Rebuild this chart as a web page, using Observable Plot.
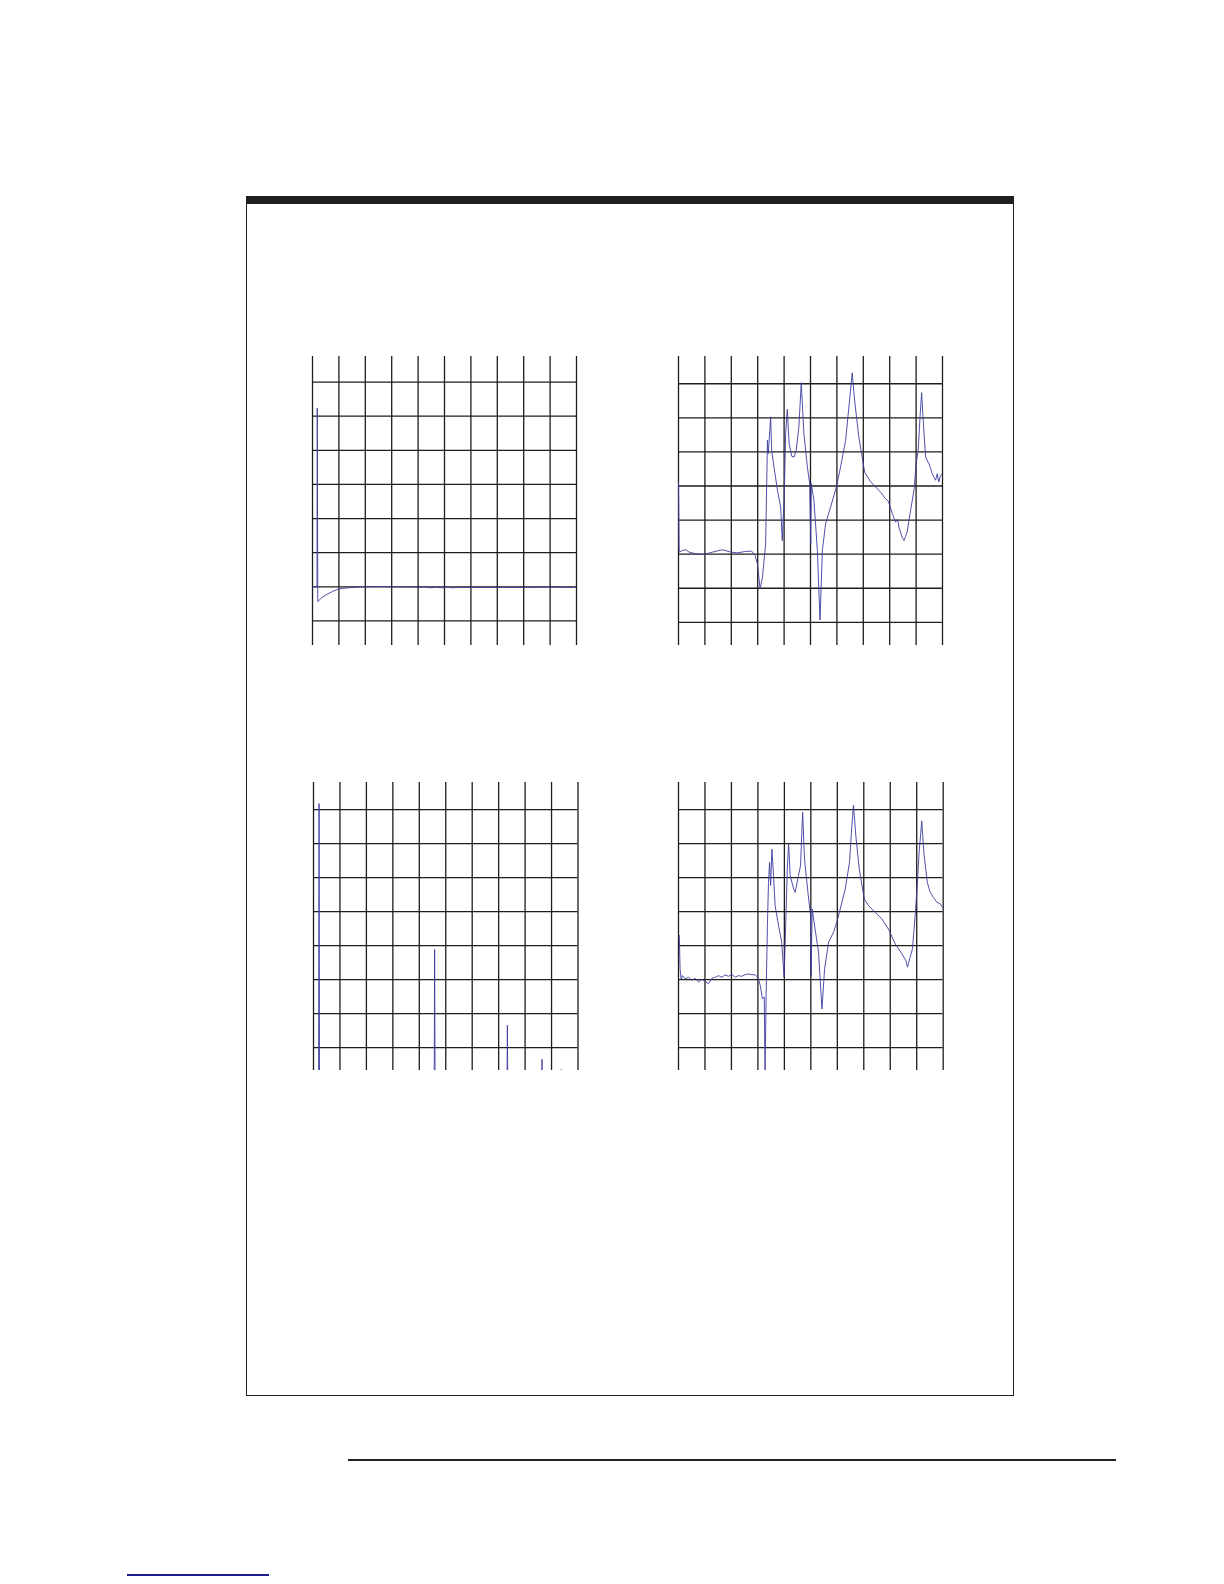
<!DOCTYPE html>
<html>
<head>
<meta charset="utf-8">
<script src="https://cdn.jsdelivr.net/npm/d3@7"></script>
<script src="https://cdn.jsdelivr.net/npm/@observablehq/plot@0.6"></script>
<style>
  html, body { margin: 0; padding: 0; background: #fff; }
  #page { position: relative; width: 1224px; height: 1584px; background: #fff; overflow: hidden; font-family: "Liberation Sans", Arial, sans-serif; }
  .abs { position: absolute; }
  .panel svg { display: block; }
</style>
</head>
<body>
<div id="page">
  <div class="abs" id="box" style="left:246px;top:196px;width:766px;height:1199px;border:1.3px solid #231f20;border-top:none;"></div>
  <div class="abs" style="left:246px;top:196px;width:768px;height:8px;background:#231f20;"></div>
  <div class="abs" style="left:348px;top:1459px;width:768px;height:1.5px;background:#231f20;"></div>
  <div class="abs" style="left:127px;top:1574px;width:142px;height:1.6px;background:#1c1c8c;"></div>
</div>
<script>
// grid divisions (shared by all panels)
const xGrid = [0, 1, 2, 3, 4, 5, 6, 7, 8, 9, 10];
const yGrid = [1, 2, 3, 4, 5, 6, 7, 8];

// Panel 1 (top left)
const p1X = [0, 0.17, 0.18, 0.20, 0.35, 0.55, 0.75, 0.96, 1.2, 1.5, 1.82, 2.5, 3.2, 4.3, 4.5, 4.7, 4.9, 5.1, 5.3, 5.5, 6.5, 8, 9, 10];
const p1Y = [2.0, 2.0, 7.24, 1.57, 1.68, 1.78, 1.86, 1.93, 1.96, 1.98, 2.0, 2.01, 2.0, 1.99, 1.97, 1.99, 1.97, 1.99, 1.97, 1.98, 1.98, 1.98, 1.99, 1.98];

// Panel 2 (top right)
const p2X = [0, 0.025, 0.15, 0.28, 0.40, 0.66, 0.97, 1.29, 1.66, 1.98, 2.23, 2.55, 2.77, 2.90, 2.99, 3.09, 3.18, 3.30, 3.37, 3.40, 3.46, 3.49, 3.53, 3.58, 3.75, 3.87, 3.93, 4.00, 4.06, 4.12, 4.19, 4.29, 4.38, 4.46, 4.56, 4.65, 4.75, 4.88, 4.97, 5.01, 5.03, 5.13, 5.26, 5.36, 5.45, 5.57, 5.76, 5.98, 6.14, 6.33, 6.48, 6.58, 6.67, 6.83, 7.05, 7.28, 7.47, 7.65, 7.84, 7.95, 8.02, 8.10, 8.22, 8.30, 8.35, 8.42, 8.47, 8.54, 8.60, 8.66, 8.79, 8.92, 9.00, 9.08, 9.15, 9.21, 9.26, 9.36, 9.48, 9.55, 9.61, 9.68, 9.74, 9.80, 9.86, 9.92, 9.99];
const p2Y = [5.12, 3.06, 3.11, 3.13, 3.06, 3.01, 2.99, 3.06, 3.13, 3.06, 3.04, 3.08, 3.09, 2.96, 2.72, 1.98, 2.32, 3.30, 6.34, 5.95, 6.64, 7.03, 6.05, 5.75, 4.87, 4.38, 3.40, 4.58, 6.54, 7.25, 6.25, 5.87, 5.85, 6.05, 6.74, 8.03, 6.54, 5.56, 5.07, 3.30, 5.07, 4.58, 3.11, 1.07, 3.11, 3.89, 4.38, 4.97, 5.56, 6.34, 7.52, 8.32, 7.52, 6.44, 5.41, 5.12, 4.97, 4.82, 4.63, 4.55, 4.38, 4.19, 3.94, 4.02, 3.79, 3.62, 3.50, 3.40, 3.52, 3.65, 4.28, 4.87, 5.66, 6.05, 7.03, 7.74, 7.03, 5.85, 5.66, 5.52, 5.36, 5.25, 5.17, 5.36, 5.12, 5.30, 5.36];

// Panel 3 (bottom left)
const p3X = [0, 0.19, 0.21, 0.23, 4.56, 4.58, 4.60, 7.31, 7.33, 7.35, 8.62, 8.64, 8.66, 9.35, 9.37, 9.39, 10];
const p3Y = [-1, -1, 8.18, -1, -1, 3.89, -1, -1, 1.66, -1, -1, 0.66, -1, -1, 0.36, -1, -1];

// Panel 4 (bottom right)
const p4X = [0.03, 0.06, 0.10, 0.15, 0.25, 0.38, 0.50, 0.63, 0.76, 0.88, 1.01, 1.13, 1.26, 1.39, 1.51, 1.64, 1.76, 1.89, 2.02, 2.14, 2.27, 2.39, 2.52, 2.64, 2.77, 2.90, 3.00, 3.09, 3.17, 3.24, 3.27, 3.31, 3.36, 3.40, 3.44, 3.48, 3.53, 3.59, 3.65, 3.78, 3.90, 3.99, 4.06, 4.11, 4.16, 4.22, 4.35, 4.41, 4.53, 4.61, 4.69, 4.76, 4.89, 4.99, 5.01, 5.05, 5.16, 5.29, 5.42, 5.52, 5.67, 5.86, 5.98, 6.11, 6.30, 6.46, 6.55, 6.61, 6.70, 6.83, 7.02, 7.18, 7.43, 7.68, 7.93, 8.19, 8.44, 8.59, 8.65, 8.75, 8.84, 8.94, 9.02, 9.09, 9.19, 9.27, 9.40, 9.51, 9.63, 9.76, 9.89, 10.0];
const p4Y = [4.30, 3.32, 3.01, 3.12, 3.03, 3.07, 2.98, 3.04, 2.93, 3.01, 2.95, 2.88, 3.04, 3.07, 3.12, 3.07, 3.14, 3.10, 3.15, 3.07, 3.12, 3.10, 3.15, 3.17, 3.15, 3.14, 3.07, 2.83, 2.44, 2.49, 0.20, 2.54, 4.59, 5.86, 6.45, 5.77, 6.84, 6.06, 5.18, 4.59, 4.10, 3.07, 4.88, 6.25, 6.99, 6.06, 5.67, 5.57, 6.06, 6.35, 7.92, 6.55, 5.57, 4.88, 3.12, 5.08, 4.49, 3.81, 2.14, 3.32, 4.10, 4.40, 4.69, 5.08, 5.67, 6.45, 7.53, 8.13, 7.23, 6.25, 5.37, 5.18, 4.98, 4.79, 4.49, 4.05, 3.76, 3.56, 3.37, 3.66, 3.91, 4.88, 5.77, 6.74, 7.67, 6.74, 5.86, 5.57, 5.42, 5.28, 5.23, 5.10];

const panels = [
  {xs: p1X, ys: p1Y, left: 312, top: 356, w: 264, h: 289, yDom: [0.28, 8.75]},
  {xs: p2X, ys: p2Y, left: 678, top: 356, w: 264, h: 289, yDom: [0.32, 8.80]},
  {xs: p3X, ys: p3Y, left: 313, top: 782, w: 264.5, h: 288, yDom: [0.33, 8.80]},
  {xs: p4X, ys: p4Y, left: 678.3, top: 782, w: 264.7, h: 288, yDom: [0.33, 8.80]}
];

const page = document.getElementById("page");
const gridColor = "#1d1d1b";
const traceColor = "#3c3ca0";

for (const p of panels) {
  const data = p.xs.map((x, i) => ({x, y: p.ys[i]}));
  const m = 2;
  const chart = Plot.plot({
    width: p.w + 2 * m,
    height: p.h,
    marginLeft: m,
    marginRight: m,
    marginTop: 0,
    marginBottom: 0,
    x: {domain: [0, 10], axis: null},
    y: {domain: p.yDom, axis: null},
    style: {background: "transparent", overflow: "visible"},
    marks: [
      Plot.ruleX(xGrid, {stroke: gridColor, strokeWidth: 1.3}),
      Plot.ruleY(yGrid, {x1: 0, x2: 10, stroke: gridColor, strokeWidth: 1.3}),
      Plot.line(data, {x: "x", y: "y", stroke: traceColor, strokeWidth: 0.9, clip: true})
    ]
  });
  const div = document.createElement("div");
  div.className = "abs panel";
  div.style.left = (p.left - m) + "px";
  div.style.top = p.top + "px";
  div.appendChild(chart);
  page.appendChild(div);
}
</script>
</body>
</html>
